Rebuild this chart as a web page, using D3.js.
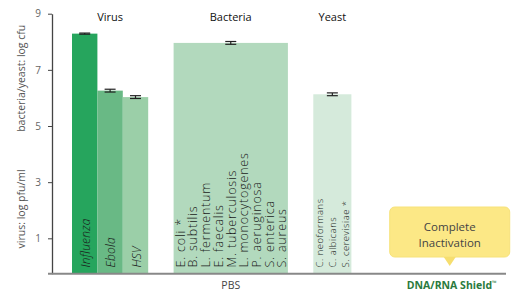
<!DOCTYPE html>
<html>
<head>
<meta charset="utf-8">
<script src="https://cdn.jsdelivr.net/npm/d3@7"></script>
<style>
  body { margin: 0; background: #fff; }
  svg { display: block; font-family: "Open Sans", sans-serif; }
</style>
</head>
<body>
<div id="chart"></div>
<script>
// data
const groupNames = ['Virus', 'Bacteria', 'Yeast'];
const barNames = ['Influenza', 'Ebola', 'HSV', 'Bacteria', 'Yeast'];
const barGroups = ['Virus', 'Virus', 'Virus', 'Bacteria', 'Yeast'];
const barValues = [8.29, 6.26, 6.03, 7.96, 6.13];
const barErrors = [0.02, 0.05, 0.05, 0.05, 0.05];
const virusLabels = ['Influenza', 'Ebola', 'HSV'];
const bacteriaSpecies = ['E. coli *', 'B. subtilis', 'L. fermentum', 'E. faecalis', 'M. tuberculosis',
  'L. monocytogenes', 'P. aeruginosa', 'S. enterica', 'S. aureus'];
const yeastSpecies = ['C. neoformans', 'C. albicans', 'S. cerevisiae *'];
const yTicks = [1, 3, 5, 7, 9];
const yDomain = [-0.26, 9];
const treatmentLabels = ['PBS', 'DNA/RNA Shield'];
const calloutLines = ['Complete', 'Inactivation'];

const width = 514, height = 292;
const colors = ['#26a55d', '#69b985', '#9bcfa8', '#b2d9bd', '#d5eadb'];

// slot layout in "units": virus bars 2 units each, bacteria/yeast 1 unit per species
const unitWidths = [2, 2, 2, bacteriaSpecies.length, yeastSpecies.length];
const gapBefore = [0, 0, 0, 2, 2];
let pos = 0;
const bars = barNames.map((name, i) => {
  pos += gapBefore[i];
  const b = { name, group: barGroups[i], value: barValues[i], err: barErrors[i], x0: pos, x1: pos + unitWidths[i], color: colors[i] };
  pos += unitWidths[i];
  return b;
});
const shieldCenter = pos + 7.9;

const svg = d3.select('#chart').append('svg')
  .attr('width', width).attr('height', height);

const x = d3.scaleLinear().domain([0, 1]).range([72, 84.7]);
const y = d3.scaleLinear().domain(yDomain).range([273.7, 13.7]);

// bars
svg.append('g').selectAll('rect')
  .data(bars)
  .join('rect')
  .attr('x', d => x(d.x0))
  .attr('width', d => x(d.x1) - x(d.x0))
  .attr('y', d => y(d.value))
  .attr('height', d => y(yDomain[0]) - y(d.value))
  .attr('fill', d => d.color);

// error bars
const eb = svg.append('g').attr('stroke', '#222').attr('stroke-width', 1.2);
bars.forEach(d => {
  const cx = x((d.x0 + d.x1) / 2);
  eb.append('line').attr('x1', cx).attr('x2', cx).attr('y1', y(d.value + d.err)).attr('y2', y(d.value - d.err));
  [d.value + d.err, d.value - d.err].forEach(v => {
    eb.append('line').attr('x1', cx - 5.5).attr('x2', cx + 5.5).attr('y1', y(v)).attr('y2', y(v));
  });
});

// group titles
groupNames.forEach(g => {
  const gb = bars.filter(b => b.group === g);
  const cx = x((gb[0].x0 + gb[gb.length - 1].x1) / 2);
  svg.append('text').attr('x', cx).attr('y', 21)
    .attr('text-anchor', 'middle').attr('font-size', 11).attr('fill', '#111')
    .text(g);
});

// rotated labels inside bars
function rotLabel(xp, text, size, italic, spacing) {
  svg.append('text')
    .attr('transform', `translate(${xp},267.5) rotate(-90)`)
    .attr('font-size', size)
    .attr('font-style', italic ? 'italic' : 'normal')
    .attr('font-weight', 300)
    .attr('letter-spacing', spacing)
    .attr('fill', '#1a1a1a')
    .text(text);
}
virusLabels.forEach((t, i) => {
  const b = bars[i];
  rotLabel(x((b.x0 + b.x1) / 2) + 5, t, 12, true, 0.2);
});
bacteriaSpecies.forEach((t, i) => {
  const b = bars[3];
  rotLabel(x(b.x0 + i + 0.5) + 4.8, t, 12.5, false, 0.8);
});
yeastSpecies.forEach((t, i) => {
  const b = bars[4];
  rotLabel(x(b.x0 + i + 0.5) + 3.5, t, 9.5, false, 0.5);
});

// y axis
const yAxis = svg.append('g')
  .attr('transform', 'translate(52,0)')
  .call(d3.axisLeft(y).tickValues(yTicks).tickSize(4).tickSizeOuter(0).tickPadding(7));
yAxis.select('.domain').attr('stroke', '#444').attr('stroke-width', 1.3);
yAxis.selectAll('.tick line').attr('stroke', '#444');
yAxis.selectAll('.tick text').attr('font-size', 10).attr('fill', '#666').attr('font-family', '"Open Sans", sans-serif');

// baseline
svg.append('line')
  .attr('x1', 48).attr('x2', 506)
  .attr('y1', y(yDomain[0])).attr('y2', y(yDomain[0]))
  .attr('stroke', '#888').attr('stroke-width', 2);

// y axis titles
svg.append('text').attr('transform', `translate(25,${y(2.05)}) rotate(-90)`)
  .attr('text-anchor', 'middle').attr('font-size', 10.5).attr('fill', '#555')
  .text('virus: log pfu/ml');
svg.append('text').attr('transform', `translate(25,${y(6.7)}) rotate(-90)`)
  .attr('text-anchor', 'middle').attr('font-size', 10.5).attr('fill', '#555')
  .text('bacteria/yeast: log cfu');

// treatment labels
svg.append('text').attr('x', x((bars[3].x0 + bars[3].x1) / 2)).attr('y', 289)
  .attr('text-anchor', 'middle').attr('font-size', 10.5).attr('fill', '#444')
  .text(treatmentLabels[0]);
const sh = svg.append('text').attr('x', x(shieldCenter)).attr('y', 289)
  .attr('text-anchor', 'middle').attr('font-size', 10.5).attr('font-weight', 'bold').attr('fill', '#2a7a3d')
  .text(treatmentLabels[1]);
sh.append('tspan').attr('font-size', 6).attr('dy', -4).text('™');

// callout
const cx = x(shieldCenter) - 2;
const callout = svg.append('g');
callout.append('rect')
  .attr('x', cx - 60).attr('y', 207).attr('width', 120).attr('height', 50).attr('rx', 5)
  .attr('fill', '#fce886').attr('stroke', '#f7e27a');
callout.append('path')
  .attr('d', `M${cx - 6},257 L${cx + 6},257 L${cx},266 Z`)
  .attr('fill', '#f6de6f');
calloutLines.forEach((t, i) => {
  callout.append('text').attr('x', cx).attr('y', 231 + i * 16)
    .attr('text-anchor', 'middle').attr('font-size', 11.5).attr('fill', '#444')
    .text(t);
});
</script>
</body>
</html>
